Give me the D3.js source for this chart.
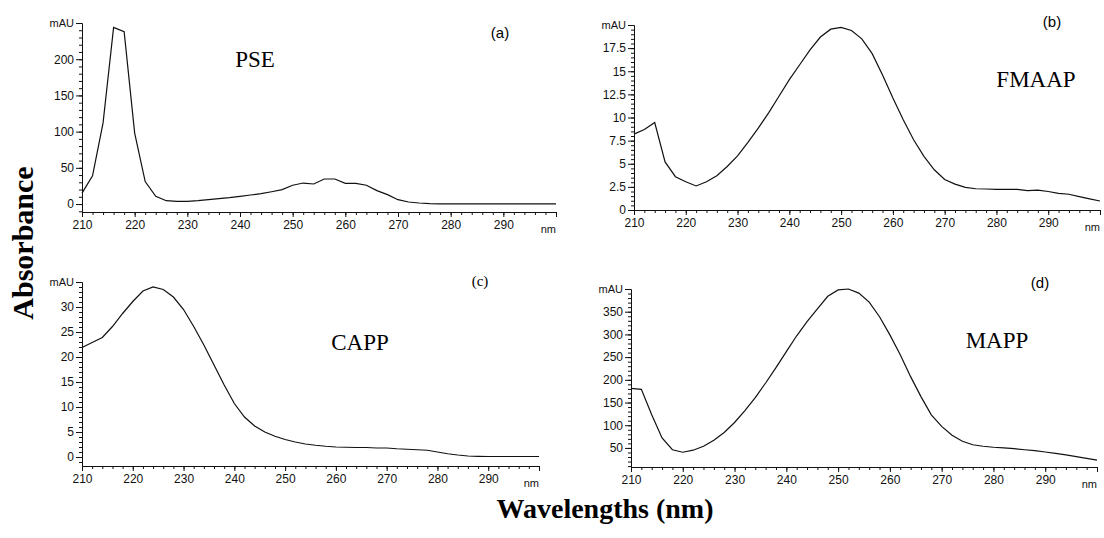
<!DOCTYPE html>
<html>
<head>
<meta charset="utf-8">
<script src="https://cdn.jsdelivr.net/npm/d3@7"></script>
<style>
  body { margin: 0; background: #fff; }
  .tick text { font-family: Arial, "Liberation Sans", sans-serif; font-size: 12px; fill: #111; }
</style>
</head>
<body>
<script>
// wavelength grid (nm) shared by the four spectra
var wavelengths = [210, 212, 214, 216, 218, 220, 222, 224, 226, 228, 230, 232, 234, 236, 238,
                   240, 242, 244, 246, 248, 250, 252, 254, 256, 258, 260, 262, 264, 266, 268,
                   270, 272, 274, 276, 278, 280, 282, 284, 286, 288, 290, 292, 294, 296, 298, 300];

var pseValues = [15, 39, 112, 244, 238, 98, 31, 10.6, 4.6, 3.7, 3.7, 4.6, 6, 7.4, 8.8,
                 10.6, 12.5, 14.3, 17, 20, 26, 29, 27.7, 34.6, 34.6, 28.6, 28.6, 26, 18.5, 13,
                 6, 2.8, 1.4, 0.5, 0.3, 0.2, 0.2, 0.2, 0.2, 0.2, 0.2, 0.2, 0.2, 0.2, 0.2, 0.2];

var fmaapValues = [8.2, 8.7, 9.45, 5.2, 3.6, 3.05, 2.6, 3.05, 3.7, 4.7, 5.85, 7.3, 8.85, 10.5, 12.3,
                   14.1, 15.7, 17.3, 18.7, 19.55, 19.75, 19.4, 18.5, 16.9, 14.6, 12.1, 9.75, 7.6, 5.8, 4.35,
                   3.3, 2.8, 2.45, 2.3, 2.27, 2.24, 2.24, 2.24, 2.1, 2.15, 2.0, 1.8, 1.7, 1.45, 1.2, 0.97];

var cappValues = [21.9, 22.9, 23.9, 26.1, 28.7, 31.1, 33.2, 34.0, 33.5, 32.0, 29.5, 26.1, 22.4, 18.4, 14.4,
                  10.7, 8.0, 6.2, 5.0, 4.15, 3.5, 3.0, 2.6, 2.35, 2.15, 2.0, 1.95, 1.9, 1.9, 1.8,
                  1.8, 1.65, 1.55, 1.45, 1.35, 1.0, 0.65, 0.4, 0.2, 0.13, 0.1, 0.1, 0.1, 0.1, 0.1, 0.1];

var mappValues = [181, 179, 123, 72, 46, 40.5, 45, 53.7, 67, 84, 106, 132, 161, 193, 227,
                  262, 297, 328, 356, 384, 398, 400, 391, 371, 339, 299, 255, 207, 163, 123,
                  97.5, 78, 64.6, 57, 53.7, 51.5, 50, 48.5, 46, 44, 41, 38, 34.6, 31, 27, 23];

var seriesNames = ["PSE", "FMAAP", "CAPP", "MAPP"];
var panelTags = ["(a)", "(b)", "(c)", "(d)"];

var xMajor = [210, 220, 230, 240, 250, 260, 270, 280, 290, 300];
var yMajor = [
  [0, 50, 100, 150, 200, 250],
  [0, 2.5, 5, 7.5, 10, 12.5, 15, 17.5, 20],
  [0, 5, 10, 15, 20, 25, 30, 35],
  [50, 100, 150, 200, 250, 300, 350, 400]
];

var width = 1104, height = 538;

var svg = d3.select("body")
            .append("svg")
            .attr("width", width)
            .attr("height", height);

// pixel layout of each panel
var panels = [
  {values: pseValues,   xRange: [82, 556],  yDomain: [-11, 250], yRange: [212, 23],  yMinor: 10,
   tag: [500, 38, "Arial"], name: [255, 67]},
  {values: fmaapValues, xRange: [634, 1100], yDomain: [0, 20],    yRange: [210, 25],  yMinor: 0.5,
   tag: [1052, 27, "Arial"], name: [1036, 87]},
  {values: cappValues,  xRange: [82, 539],  yDomain: [-1.8, 35],  yRange: [466, 282], yMinor: 1,
   tag: [480, 286, "Times New Roman, Liberation Serif, serif"], name: [360, 350]},
  {values: mappValues,  xRange: [631, 1097], yDomain: [8, 400],   yRange: [467, 289], yMinor: 10,
   tag: [1040, 288, "Arial"], name: [997, 348]}
];

panels.forEach(function(p, i) {
  var x = d3.scaleLinear().domain([210, 300]).range(p.xRange);
  var y = d3.scaleLinear().domain(p.yDomain).range(p.yRange);
  var top = p.yDomain[1];
  var g = svg.append("g");

  var xMinor = d3.range(210, 300.1, 2);
  var yMinorTicks = d3.range(Math.ceil(p.yDomain[0] / p.yMinor) * p.yMinor, top + 1e-6, p.yMinor);

  // x axis: minor then major ticks
  g.append("g")
   .attr("transform", "translate(0," + p.yRange[0] + ")")
   .call(d3.axisBottom(x).tickValues(xMinor).tickSize(3).tickSizeOuter(0).tickFormat(""));
  g.append("g")
   .attr("transform", "translate(0," + p.yRange[0] + ")")
   .call(d3.axisBottom(x).tickValues(xMajor).tickSize(5).tickSizeOuter(0).tickPadding(3)
           .tickFormat(function(d) { return d === 300 ? "" : d; }));

  g.append("text")
   .attr("x", p.xRange[1])
   .attr("y", p.yRange[0] + 21)
   .attr("text-anchor", "end")
   .style("font-family", "Arial, sans-serif")
   .style("font-size", "11px")
   .style("fill", "#111")
   .text("nm");

  // y axis
  g.append("g")
   .attr("transform", "translate(" + p.xRange[0] + ",0)")
   .call(d3.axisLeft(y).tickValues(yMinorTicks).tickSize(3).tickSizeOuter(0).tickFormat(""));
  g.append("g")
   .attr("transform", "translate(" + p.xRange[0] + ",0)")
   .call(d3.axisLeft(y).tickValues(yMajor[i]).tickSize(6).tickSizeOuter(0).tickPadding(2)
           .tickFormat(function(d) { return d === top ? "mAU" : d; }))
   .selectAll("text")
   .filter(function(d) { return d === top; })
   .style("font-size", "11px");

  g.selectAll(".domain, .tick line").attr("stroke", "#111");

  var line = d3.line()
               .x(function(d, j) { return x(wavelengths[j]); })
               .y(function(d) { return y(d); });

  g.append("path")
   .datum(p.values)
   .attr("fill", "none")
   .attr("stroke", "#111")
   .attr("stroke-width", 1.2)
   .attr("d", line);

  g.append("text")
   .attr("x", p.tag[0])
   .attr("y", p.tag[1])
   .attr("text-anchor", "middle")
   .style("font-family", p.tag[2])
   .style("font-size", "15px")
   .text(panelTags[i]);

  g.append("text")
   .attr("x", p.name[0])
   .attr("y", p.name[1])
   .attr("text-anchor", "middle")
   .style("font-family", "'Times New Roman', 'Liberation Serif', serif")
   .style("font-size", "23px")
   .text(seriesNames[i]);
});

svg.append("text")
   .attr("transform", "translate(33,243) rotate(-90)")
   .attr("text-anchor", "middle")
   .style("font-family", "'Times New Roman', 'Liberation Serif', serif")
   .style("font-weight", "bold")
   .style("font-size", "30px")
   .text("Absorbance");

svg.append("text")
   .attr("x", 605)
   .attr("y", 518)
   .attr("text-anchor", "middle")
   .style("font-family", "'Times New Roman', 'Liberation Serif', serif")
   .style("font-weight", "bold")
   .style("font-size", "28px")
   .text("Wavelengths (nm)");
</script>
</body>
</html>
